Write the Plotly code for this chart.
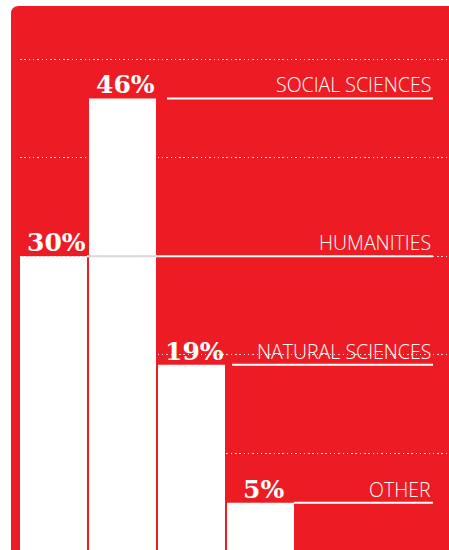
import plotly.graph_objects as go

# ---- data ----
categories = ["HUMANITIES", "SOCIAL SCIENCES", "NATURAL SCIENCES", "OTHER"]
values = [30, 46, 19, 5]
value_labels = ["30%", "46%", "19%", "5%"]
grid_vals = [10, 20, 30, 40, 50]

# ---- geometry / style ----
W, H = 449, 550
ML = 20                      # left margin (px)
PLOT_W = W - ML
STEP_PX = 69                 # px per category
BAR_PX = 67                  # bar width px
C0_PX = 53.5                 # centre of first bar in px
Y0_PX = 552                  # pixel of value 0
PPU_Y = (552 - 59) / 50      # px per percent
LABEL_RIGHT_PX = 433
line_gap_px = [0, 11, 7, 0]  # gap between bar edge and value line
RED = "#ED1C24"

x_range = [(ML - C0_PX) / STEP_PX, (W - C0_PX) / STEP_PX]
y_range = [(Y0_PX - H) / PPU_Y, Y0_PX / PPU_Y]
bar_w = BAR_PX / STEP_PX
label_right = (LABEL_RIGHT_PX - C0_PX) / STEP_PX

fig = go.Figure()
fig.add_trace(go.Bar(
    x=list(range(len(values))), y=values, width=bar_w,
    marker=dict(color="white", line=dict(width=0)),
    hoverinfo="skip",
))

def paper(xp, yp):
    return ((xp - ML) / PLOT_W, 1 - yp / H)

# red rounded background
r = 8
pts = [paper(11, 560), paper(11, 6 + r), paper(11, 6), paper(11 + r, 6),
       paper(460, 6), paper(460, 560)]
path = (f"M {pts[0][0]},{pts[0][1]} L {pts[1][0]},{pts[1][1]} "
        f"Q {pts[2][0]},{pts[2][1]} {pts[3][0]},{pts[3][1]} "
        f"L {pts[4][0]},{pts[4][1]} L {pts[5][0]},{pts[5][1]} Z")
shapes = [dict(type="path", path=path, xref="paper", yref="paper",
               fillcolor=RED, line=dict(width=0), layer="below")]

annotations = []
for i, (cat, v, lab) in enumerate(zip(categories, values, value_labels)):
    x0 = i + bar_w / 2 + line_gap_px[i] / STEP_PX
    shapes.append(dict(type="line", xref="x", yref="y", x0=x0, x1=label_right,
                       y0=v, y1=v, line=dict(color="white", width=2), layer="above"))
    # where the line crosses a taller bar, show it in light grey
    for j, vj in enumerate(values):
        if j != i and vj > v:
            a = max(x0, j - bar_w / 2)
            b = min(label_right, j + bar_w / 2)
            if b > a:
                shapes.append(dict(type="line", xref="x", yref="y", x0=a, x1=b,
                                   y0=v, y1=v, line=dict(color="#d8d8d8", width=2),
                                   layer="above"))
    annotations.append(dict(x=i, y=v, xref="x", yref="y", text=lab,
                            showarrow=False, xanchor="center", yanchor="bottom",
                            xshift=3, yshift=-3,
                            font=dict(family="DejaVu Serif", size=25, color="white",
                                      weight="bold")))
    annotations.append(dict(x=label_right, y=v, xref="x", yref="y", text=cat,
                            showarrow=False, xanchor="right", yanchor="bottom",
                            yshift=-2,
                            font=dict(family="Open Sans", size=19.5, color="white",
                                      weight=300)))

fig.update_layout(
    width=W, height=H, autosize=False,
    margin=dict(l=ML, r=0, t=0, b=0, pad=0),
    paper_bgcolor="white", plot_bgcolor="rgba(0,0,0,0)",
    showlegend=False, shapes=shapes, annotations=annotations,
    xaxis=dict(range=x_range, showgrid=False, zeroline=False, showticklabels=False,
               showline=False, ticks=""),
    yaxis=dict(range=y_range, tickvals=grid_vals, showticklabels=False, ticks="",
               showgrid=True, gridcolor="rgba(255,255,255,0.85)", gridwidth=1,
               griddash="1.5px,2.8px", zeroline=False, showline=False),
)

fig.write_html(
    "out.html",
    config={"displayModeBar": False},
    post_script="document.body.style.margin='0';document.body.style.overflow='hidden';",
)
